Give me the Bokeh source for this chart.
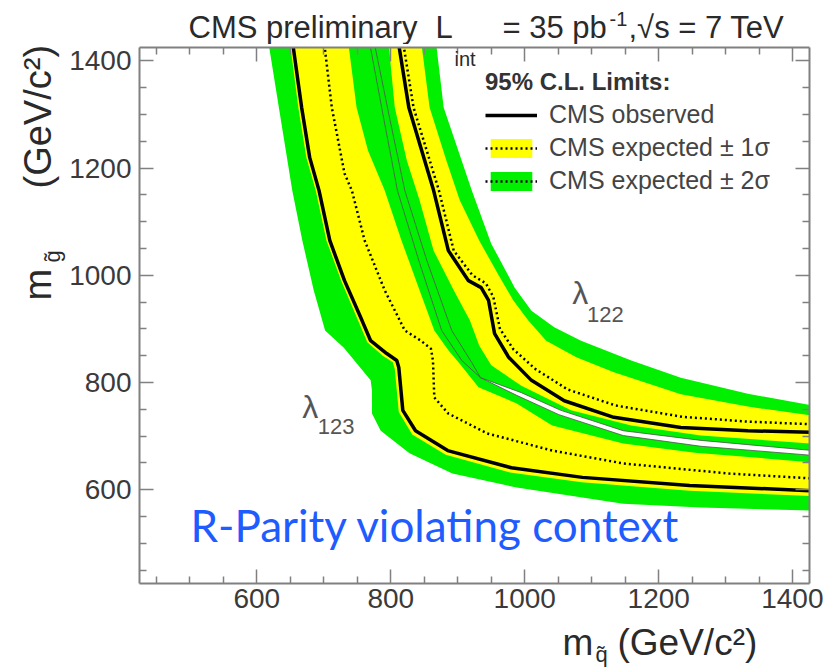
import math

from bokeh.plotting import figure
from bokeh.layouts import row, column
from bokeh.models import (Range1d, LinearAxis, FixedTicker, Label, Legend,
                          LegendItem, CustomJSTickFormatter)
from bokeh.embed import file_html
from bokeh.resources import INLINE

# ---------------------------------------------------------------- data
# axis ticks (GeV/c^2)
x_major = [600, 800, 1000, 1200, 1400]
y_major = [600, 800, 1000, 1200, 1400]
minor = [450, 500, 550, 650, 700, 750, 850, 900, 950,
         1050, 1100, 1150, 1250, 1300, 1350]

# lambda_123 : observed limit (m_squark, m_gluino)
l123_obs_x = [654, 667, 679, 693, 709, 731, 757, 770, 794, 809, 812, 818, 837, 885, 980, 1086, 1246, 1430]
l123_obs_y = [1430, 1313, 1220, 1158, 1065, 990, 916, 878, 854, 841, 828, 748, 710, 673, 641, 623, 608, 598]
# lambda_123 : expected limit
l123_exp_x = [701, 712, 731, 742, 761, 791, 821, 845, 860, 863, 865, 886, 944, 1041, 1147, 1306, 1430]
l123_exp_y = [1430, 1313, 1190, 1158, 1065, 972, 897, 878, 863, 841, 772, 742, 705, 673, 649, 630, 621]
# lambda_123 : expected +1 sigma / -1 sigma
l123_p1_x = [737, 749, 766, 791, 816, 843, 865, 886, 903, 931, 988, 1041, 1147, 1254, 1430]
l123_p1_y = [1430, 1313, 1233, 1158, 1065, 972, 897, 860, 835, 791, 761, 720, 686, 669, 651]
l123_m1_x = [650, 662, 674, 688, 704, 726, 751, 765, 788, 803, 806, 812, 832, 882, 978, 1085, 1246, 1430]
l123_m1_y = [1430, 1313, 1220, 1158, 1065, 990, 916, 875, 850, 838, 825, 745, 703, 665, 632, 614, 598, 588]
# lambda_123 : expected +2 sigma / -2 sigma
l123_p2_x = [776, 799, 821, 854, 891, 921, 934, 988, 1051, 1147, 1263, 1430]
l123_p2_y = [1430, 1289, 1158, 1027, 897, 837, 809, 776, 740, 701, 681, 664]
l123_m2_x = [618, 633, 653, 668, 685, 702, 730, 770, 772, 772, 785, 828, 892, 988, 1147, 1263, 1430]
l123_m2_y = [1430, 1313, 1158, 1065, 972, 897, 865, 804, 785, 742, 710, 668, 630, 604, 574, 567, 561]

# lambda_122 : observed limit
l122_obs_x = [812, 827, 864, 886, 916, 935, 946, 955, 976, 1010, 1059, 1133, 1233, 1333, 1430]
l122_obs_y = [1430, 1313, 1158, 1046, 990, 977, 953, 891, 847, 804, 766, 735, 716, 710, 707]
# lambda_122 : expected limit
l122_exp_x = [819, 834, 872, 894, 922, 942, 953, 963, 983, 1016, 1064, 1136, 1235, 1333, 1430]
l122_exp_y = [1430, 1313, 1158, 1046, 1000, 985, 960, 900, 862, 825, 787, 757, 736, 727, 722]
# lambda_122 : expected +1 sigma / -1 sigma
l122_p1_x = [846, 858, 883, 903, 932, 961, 983, 1005, 1032, 1077, 1133, 1233, 1333, 1430]
l122_p1_y = [1430, 1313, 1214, 1140, 1065, 1000, 953, 916, 878, 847, 819, 778, 755, 738]
l122_m1_x = [797, 806, 824, 843, 864, 894, 918, 932, 950, 995, 1069, 1159, 1263, 1430]
l122_m1_y = [1430, 1313, 1214, 1140, 1046, 972, 916, 869, 832, 794, 748, 720, 701, 686]
# lambda_122 : expected +2 sigma / -2 sigma
l122_p2_x = [868, 879, 921, 950, 985, 1010, 1044, 1084, 1159, 1233, 1333, 1430]
l122_p2_y = [1430, 1313, 1158, 1059, 977, 934, 903, 878, 841, 809, 779, 757]
l122_m2_x = [769, 790, 810, 842, 876, 906, 934, 995, 1054, 1147, 1263, 1430]
l122_m2_y = [1430, 1289, 1158, 1027, 897, 841, 809, 781, 748, 710, 692, 673]

# ---------------------------------------------------------------- style
FONT = "Liberation Sans"
TXT = "#3a3a3a"
HEAD = "#2a2a2a"
AXIS = "#808080"
YELLOW = "#ffff00"
GREEN = "#00f000"

TOTAL_W, TOTAL_H = 823, 667
LEFT_W = 66          # strip holding the vertical axis title
HEAD_H = 44          # strip holding the header line
FOOT_H = 47          # strip holding the horizontal axis title
FRAME_L, FRAME_R, FRAME_T, FRAME_B = 137, 809, 47, 583


def band(up_x, up_y, lo_x, lo_y):
    """Closed polygon between an outer and an inner contour."""
    return up_x + lo_x[::-1], up_y + lo_y[::-1]


def text_strip(width, height):
    """Blank figure used only to carry free text."""
    f = figure(width=width, height=height,
               x_range=Range1d(0, width), y_range=Range1d(0, height),
               output_backend="svg", toolbar_location=None,
               x_axis_type=None, y_axis_type=None, min_border=0)
    f.grid.visible = False
    f.outline_line_color = None
    f.background_fill_color = "white"
    f.border_fill_color = "white"
    return f


def put(fig, text, x, y, size, angle=0.0, color=TXT, font=FONT):
    """Text whose vertical centre sits at (x, y) pixels from the frame's lower-left."""
    fig.add_layout(Label(x=x, y=y, x_units="screen", y_units="screen", text=text,
                         text_font=font, text_font_size=size, text_color=color,
                         angle=angle, text_baseline="middle", text_align="left"))


# ---------------------------------------------------------------- main plot
p = figure(width=TOTAL_W - LEFT_W, height=TOTAL_H - HEAD_H - FOOT_H,
           x_range=Range1d(425, 1425), y_range=Range1d(425, 1425),
           output_backend="svg", toolbar_location=None,
           min_border_left=FRAME_L - LEFT_W, min_border_right=TOTAL_W - FRAME_R,
           min_border_top=FRAME_T - HEAD_H, min_border_bottom=37)
p.grid.visible = False
p.outline_line_color = None
p.background_fill_color = "white"
p.border_fill_color = "white"


def style_axis(ax, ticks):
    # ROOT look: ticks on all four sides, pointing inwards
    ax.ticker = FixedTicker(ticks=ticks, minor_ticks=minor)
    ax.axis_line_color = AXIS
    ax.axis_line_width = 2
    ax.major_tick_line_color = AXIS
    ax.minor_tick_line_color = AXIS
    ax.major_tick_line_width = 1.5
    ax.minor_tick_line_width = 1.5
    ax.major_tick_in = 14
    ax.major_tick_out = 0
    ax.minor_tick_in = 7
    ax.minor_tick_out = 0
    ax.major_label_text_font = FONT
    ax.major_label_text_font_size = "28px"
    ax.major_label_text_color = TXT


style_axis(p.xaxis[0], x_major)
style_axis(p.yaxis[0], y_major)
p.xaxis.major_label_standoff = 5
p.yaxis.major_label_standoff = 8

for side_name, ticks in (("above", x_major), ("right", y_major)):
    ax = LinearAxis(formatter=CustomJSTickFormatter(code="return ''"))
    style_axis(ax, ticks)
    ax.major_label_standoff = 0
    ax.major_label_text_font_size = "0px"
    p.add_layout(ax, side_name)

# ---- 2 sigma bands
bx, by = band(l122_p2_x, l122_p2_y, l122_m2_x, l122_m2_y)
p.patch(bx, by, fill_color=GREEN, line_color=None)
bx, by = band(l123_p2_x, l123_p2_y, l123_m2_x, l123_m2_y)
g123 = p.patch(bx, by, fill_color=GREEN, line_color=None)

# ---- 1 sigma bands
bx, by = band(l122_p1_x, l122_p1_y, l122_m1_x, l122_m1_y)
p.patch(bx, by, fill_color=YELLOW, line_color=None)
bx, by = band(l123_p1_x, l123_p1_y, l123_m1_x, l123_m1_y)
y123 = p.patch(bx, by, fill_color=YELLOW, line_color=None)

# thin outlines of the inner 2 sigma edges
p.line(l122_m2_x, l122_m2_y, line_color="#505050", line_width=0.8)
p.line(l123_p2_x, l123_p2_y, line_color="#505050", line_width=0.8)

# ---- expected and observed limits
exp123 = p.line(l123_exp_x, l123_exp_y, line_color="black", line_width=2.5, line_dash="2 3")
p.line(l122_exp_x, l122_exp_y, line_color="black", line_width=2.5, line_dash="2 3")
obs123 = p.line(l123_obs_x, l123_obs_y, line_color="black", line_width=3.5)
p.line(l122_obs_x, l122_obs_y, line_color="black", line_width=3.5)

# ---- legend
legend = Legend(items=[
    LegendItem(label="CMS observed", renderers=[obs123]),
    LegendItem(label="CMS expected \u00b1 1\u03c3", renderers=[y123, exp123]),
    LegendItem(label="CMS expected \u00b1 2\u03c3", renderers=[g123, exp123]),
], location=(346, 388))
legend.title = "95% C.L. Limits:"
legend.title_text_font = FONT
legend.title_text_font_style = "bold"
legend.title_text_font_size = "24px"
legend.title_text_color = "#333333"
legend.title_standoff = 4
legend.label_text_font = FONT
legend.label_text_font_size = "25px"
legend.label_text_color = "#444444"
legend.glyph_width = 52
legend.glyph_height = 24
legend.label_height = 24
legend.label_standoff = 12
legend.spacing = 4
legend.padding = 0
legend.margin = 0
legend.border_line_color = None
legend.background_fill_alpha = 0
p.add_layout(legend)

# ---- curve names
for txt, x, y, size in [("\u03bb", 1071, 934, "32px"), ("122", 1093, 912, "22px"),
                        ("\u03bb", 668, 721, "32px"), ("123", 691, 704, "22px")]:
    p.add_layout(Label(x=x, y=y, text=txt, text_font=FONT, text_font_size=size,
                       text_color="#555555"))

# subscript of the luminosity symbol dips into the frame
put(p, "int", 452 - FRAME_L, FRAME_B - 58, "20px", color=HEAD)

# context note
put(p, "R-Parity violating context", 51, FRAME_B - 524, "44px", color="#1f5cff", font="Lato")

# ---------------------------------------------------------------- header strip
# (its frame lines up with the main frame: x measured from FRAME_L)
head = text_strip(TOTAL_W - LEFT_W, HEAD_H)
put(head, "CMS preliminary", 186 - FRAME_L, HEAD_H - 26.8, "31px", color=HEAD)
put(head, "L", 433 - FRAME_L, HEAD_H - 26.8, "31px", color=HEAD)
put(head, "= 35 pb", 500 - FRAME_L, HEAD_H - 26.8, "31px", color=HEAD)
put(head, "-1", 607 - FRAME_L, HEAD_H - 18, "20px", color=HEAD)
put(head, ",\u221as = 7 TeV", 626 - FRAME_L, HEAD_H - 26.8, "31px", color=HEAD)

# ---------------------------------------------------------------- x axis title strip
foot = text_strip(TOTAL_W - LEFT_W, FOOT_H)
put(foot, "m", 560 - FRAME_L, TOTAL_H - 641.5, "37px", color=HEAD)
put(foot, "q\u0303", 593 - FRAME_L, TOTAL_H - 654, "22px", color=HEAD)
put(foot, "(GeV/c\u00b2)", 615 - FRAME_L, TOTAL_H - 641.5, "37px", color=HEAD)

# ---------------------------------------------------------------- y axis title strip
side = text_strip(LEFT_W, TOTAL_H)
put(side, "m", 37, TOTAL_H - 300, "38px", angle=math.pi / 2, color=HEAD)
put(side, "g\u0303", 52, TOTAL_H - 262, "22px", angle=math.pi / 2, color=HEAD)
put(side, "(GeV/c\u00b2)", 37, TOTAL_H - 188, "38px", angle=math.pi / 2, color=HEAD)

page = row(side, column(head, p, foot, spacing=0), spacing=0)
open("out.html", "w").write(file_html(page, INLINE))
